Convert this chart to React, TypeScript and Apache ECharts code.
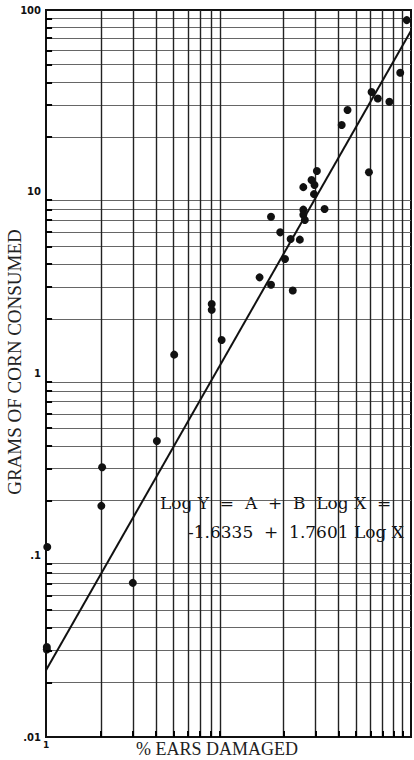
import React, { useEffect, useRef } from "react";
import * as echarts from "echarts";

// % ears damaged (x) and grams of corn consumed (y)
const earsDamagedPct = [
  94.8, 87.3, 60.8, 65.8, 76.1, 44.9, 41.7, 30.5, 58.8, 28.5, 29.6, 25.7,
  29.4, 33.6, 25.7, 25.7, 26.2, 17.1, 19.2, 21.9, 24.6, 20.4, 14.8, 17.1,
  22.5, 8.09, 8.09, 9.17, 5.04, 4.05, 2.03, 2.01, 1.016, 1.01, 1.01, 2.99,
];
const gramsConsumed = [
  88, 45.2, 35.4, 32.6, 31.3, 28.2, 23.3, 13.0, 12.8, 11.6, 10.9, 10.6,
  9.7, 8.04, 7.97, 7.47, 6.99, 7.29, 5.98, 5.5, 5.45, 4.27, 3.38, 3.08,
  2.86, 2.41, 2.24, 1.53, 1.27, 0.425, 0.305, 0.187, 0.111, 0.0313, 0.0303, 0.0705,
];

// Regression line: Log Y = -1.6335 + 1.7601 Log X, end points
const fitLineX = [1, 100];
const fitLineY = [0.0233, 77.0];

// minor tick positions
const xMinorTicks = [2, 3, 4, 5, 6, 7, 8, 9, 20, 30, 40, 50, 60, 70, 80, 90];
const yMinorTicks = [
  0.02, 0.03, 0.04, 0.05, 0.06, 0.07, 0.08, 0.09,
  0.2, 0.3, 0.4, 0.5, 0.6, 0.7, 0.8, 0.9,
  2, 3, 4, 5, 6, 7, 8, 9,
  20, 30, 40, 50, 60, 70, 80, 90,
];
const yTickText = [".01", ".1", "1", "10", "100"]; // exponents -2..2
const xTickText = ["1"];

const equationLine1 = "Log Y  =  A  +  B  Log X  =";
const equationLine2 = "-1.6335  +  1.7601 Log X";
const xTitle = "% EARS DAMAGED";
const yTitle = "GRAMS OF CORN CONSUMED";

const GRID_LEFT = 46;
const GRID_TOP = 10;
const GRID_W = 370;
const GRID_H = 727;
const X_MIN = 1;
const X_MAX = 100;
const Y_MIN = 0.01;
const Y_MAX = 100;
// tick lengths expressed as a ratio along the log axes (~6 px)
const X_TICK_RATIO = 1.08;
const Y_TICK_RATIO = 1.08;

export default function App() {
  const ref = useRef<HTMLDivElement>(null);
  useEffect(() => {
    const chart = echarts.init(ref.current!, null, { renderer: "svg" });
    const ink = "#111";

    const tickSegments: any[] = [];
    xMinorTicks.forEach((v) => {
      tickSegments.push({ coords: [[v, Y_MIN], [v, Y_MIN * Y_TICK_RATIO]] });
    });
    yMinorTicks.forEach((v) => {
      tickSegments.push({ coords: [[X_MIN, v], [X_MIN * X_TICK_RATIO, v]] });
    });

    const option: any = {
      animation: false,
      backgroundColor: "#fff",
      grid: {
        left: GRID_LEFT,
        top: GRID_TOP,
        width: GRID_W,
        height: GRID_H,
        show: true,
        borderColor: ink,
        borderWidth: 2,
        backgroundColor: "transparent",
      },
      xAxis: {
        type: "log",
        logBase: 10,
        min: X_MIN,
        max: X_MAX,
        axisLine: { show: true, lineStyle: { color: ink, width: 2 } },
        axisTick: {
          show: true,
          inside: true,
          length: 6,
          customValues: xMinorTicks,
          lineStyle: { color: "#000", width: 1.6 },
        },
        axisLabel: {
          color: ink,
          fontFamily: "DejaVu Sans",
          fontWeight: "bold",
          fontSize: 9,
          margin: 3,
          formatter: (v: number) => {
            const e = Math.round(Math.log10(v));
            return e === 0 && Math.abs(v - 1) < 1e-6 ? xTickText[0] : "";
          },
        },
        splitLine: { show: true, lineStyle: { color: "#222", width: 1.4 } },
      },
      yAxis: {
        type: "log",
        logBase: 10,
        min: Y_MIN,
        max: Y_MAX,
        axisLine: { show: true, lineStyle: { color: ink, width: 2 } },
        axisTick: {
          show: true,
          inside: true,
          length: 6,
          customValues: yMinorTicks,
          lineStyle: { color: "#000", width: 1.6 },
        },
        axisLabel: {
          color: ink,
          fontFamily: "DejaVu Sans",
          fontWeight: "bold",
          fontSize: 10,
          margin: 5,
          formatter: (v: number) => {
            const l = Math.log10(v);
            const e = Math.round(l);
            if (Math.abs(l - e) > 1e-6) return "";
            return yTickText[e + 2] ?? "";
          },
        },
        splitLine: { show: true, lineStyle: { color: "#666", width: 1 } },
      },
      series: [
        {
          type: "lines",
          coordinateSystem: "cartesian2d",
          silent: true,
          data: tickSegments,
          lineStyle: { color: "#000", width: 1.8, opacity: 1 },
          z: 6,
        },
        {
          type: "line",
          data: fitLineX.map((x, i) => [x, fitLineY[i]]),
          symbol: "none",
          lineStyle: { color: ink, width: 2 },
          clip: true,
          z: 3,
        },
        {
          type: "scatter",
          data: earsDamagedPct.map((x, i) => [x, gramsConsumed[i]]),
          symbol: "circle",
          symbolSize: 8,
          itemStyle: { color: ink, opacity: 1 },
          clip: false,
          z: 4,
        },
      ],
      graphic: [
        {
          type: "text",
          x: 14,
          y: 362,
          rotation: Math.PI / 2,
          style: {
            text: yTitle,
            fontFamily: "Liberation Serif",
            fontSize: 19,
            fill: "#222",
            textAlign: "center",
            textVerticalAlign: "middle",
          },
        },
        {
          type: "text",
          x: 217,
          y: 749,
          style: {
            text: xTitle,
            fontFamily: "Liberation Serif",
            fontSize: 18,
            fill: "#222",
            textAlign: "center",
            textVerticalAlign: "middle",
          },
        },
        {
          type: "text",
          x: 160,
          y: 503,
          style: {
            text: equationLine1,
            fontFamily: "DejaVu Serif",
            fontSize: 17,
            fill: ink,
            textAlign: "left",
            textVerticalAlign: "middle",
          },
        },
        {
          type: "text",
          x: 188,
          y: 532,
          style: {
            text: equationLine2,
            fontFamily: "DejaVu Serif",
            fontSize: 17,
            fill: ink,
            textAlign: "left",
            textVerticalAlign: "middle",
          },
        },
      ],
    };
    chart.setOption(option);
    return () => chart.dispose();
  }, []);
  return (
    <div
      ref={ref}
      style={{ position: "fixed", left: 0, top: 0, width: 414, height: 760, background: "#fff" }}
    />
  );
}
